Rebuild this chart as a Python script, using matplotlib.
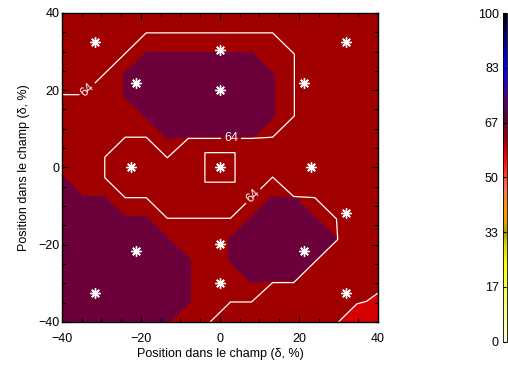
import numpy as np
import matplotlib
matplotlib.use('Agg')
import matplotlib.pyplot as plt
from matplotlib.colors import LinearSegmentedColormap, Normalize
from matplotlib.cm import ScalarMappable
from matplotlib.ticker import MultipleLocator

plt.rcParams['font.family'] = ['Liberation Sans', 'DejaVu Sans']

# grid of the interpolated map (16 x 16 nodes, -40..40 %)
grid_x = np.linspace(-40, 40, 16)
grid_y = np.linspace(-40, 40, 16)

# node values, top row (y = +40) first
z_rows = [
    [61.0, 61.0, 61.0, 61.0, 61.0, 61.0, 61.0, 61.0, 61.0, 61.0, 61.0, 61.0, 61.0, 61.0, 61.0, 61.0],
    [61.0, 61.0, 61.0, 61.0, 64.1, 64.1, 64.1, 64.1, 64.1, 64.1, 64.1, 61.0, 61.0, 61.0, 61.0, 61.0],
    [61.0, 61.0, 61.0, 64.1, 64.3, 64.3, 64.3, 64.3, 64.3, 64.3, 64.1, 64.1, 61.0, 61.0, 61.0, 61.0],
    [61.0, 61.0, 64.1, 64.3, 67.0, 67.0, 67.0, 67.0, 67.0, 67.0, 64.3, 64.1, 61.0, 61.0, 61.0, 61.0],
    [64.1, 64.1, 64.1, 64.3, 67.0, 67.0, 67.0, 67.0, 67.0, 67.0, 64.3, 64.1, 61.0, 61.0, 61.0, 61.0],
    [64.1, 64.1, 64.1, 64.1, 64.3, 67.0, 67.0, 67.0, 67.0, 67.0, 64.3, 64.1, 61.0, 61.0, 61.0, 61.0],
    [64.1, 64.1, 64.1, 64.1, 64.1, 64.3, 64.3, 64.3, 64.3, 64.3, 64.1, 61.0, 61.0, 61.0, 61.0, 61.0],
    [64.1, 64.1, 64.1, 61.0, 61.0, 64.1, 61.0, 61.0, 61.0, 61.0, 61.0, 61.0, 61.0, 61.0, 61.0, 61.0],
    [64.3, 64.1, 64.1, 61.0, 61.0, 61.0, 61.0, 61.0, 61.0, 61.0, 64.1, 61.0, 61.0, 61.0, 61.0, 61.0],
    [67.0, 64.3, 64.3, 64.1, 64.1, 61.0, 61.0, 61.0, 61.0, 64.1, 64.3, 64.3, 64.1, 61.0, 61.0, 61.0],
    [67.0, 67.0, 67.0, 64.3, 64.3, 64.1, 64.1, 64.1, 64.1, 64.3, 67.0, 67.0, 64.3, 64.1, 61.0, 61.0],
    [67.0, 67.0, 67.0, 67.0, 67.0, 64.3, 64.1, 64.1, 64.3, 67.0, 67.0, 67.0, 67.0, 64.3, 61.0, 61.0],
    [67.0, 67.0, 67.0, 67.0, 67.0, 67.0, 64.3, 64.1, 64.3, 67.0, 67.0, 67.0, 64.3, 61.0, 61.0, 61.0],
    [67.0, 67.0, 67.0, 67.0, 67.0, 67.0, 64.3, 64.1, 64.1, 64.3, 64.3, 64.3, 61.0, 61.0, 61.0, 58.9],
    [67.0, 67.0, 67.0, 67.0, 67.0, 67.0, 64.3, 64.1, 64.1, 64.1, 61.0, 61.0, 61.0, 61.0, 58.5, 57.4],
    [67.0, 67.0, 67.0, 67.0, 67.0, 64.3, 64.1, 64.1, 61.0, 61.0, 61.0, 61.0, 61.0, 58.5, 54.5, 54.0],
]

# finer look at the centre point
center_x = [-8.0, -3.75, 3.75, 8.0]
center_y = [-8.0, -3.75, 3.75, 8.0]
center_rows = [
    [61.0, 61.0, 61.0, 61.0],
    [61.0, 64.05, 64.05, 61.0],
    [61.0, 64.05, 64.05, 61.0],
    [61.0, 61.0, 61.0, 61.0],
]

# measurement positions (asterisks)
pts_x = [-31.6, 0.0, 31.9, -21.3, 0.0, 21.3, -22.5, 0.0, 23.0, 31.9, 0.0, 21.3, -21.3, 0.0, -31.6, 31.9]
pts_y = [32.5, 30.4, 32.5, 21.9, 20.1, 21.9, 0.0, 0.0, 0.0, -11.9, -19.8, -21.6, -21.6, -29.9, -32.5, -32.5]

fill_levels = [50, 58, 64.28, 75]
fill_colors = ['#d60000', '#a10000', '#6b003b']
label_level = 64
corner_level = 58
label_pos = [(-33.5, 20.0), (2.8, 8.0), (8.5, -7.5)]

cbar_ticks = np.linspace(0, 100, 7)
cmap_stops = [
    (0.00, '#ffffd8'), (0.12, '#ffff70'), (0.24, '#ffff00'), (0.30, '#d8d000'),
    (0.33, '#a8a000'), (0.37, '#f0a000'), (0.40, '#ff9900'), (0.47, '#ff7050'),
    (0.52, '#ff3010'), (0.56, '#ff0000'), (0.62, '#a00000'), (0.68, '#600030'),
    (0.75, '#500090'), (0.83, '#0000ff'), (0.92, '#000080'), (1.00, '#000000'),
]
cmap = LinearSegmentedColormap.from_list('map', cmap_stops)

Z = np.array(z_rows)[::-1]
X, Y = np.meshgrid(grid_x, grid_y)
Zc = np.array(center_rows)[::-1]
Xc, Yc = np.meshgrid(center_x, center_y)

fig = plt.figure(figsize=(5.08, 3.65), dpi=100)
ax = fig.add_axes([0.122, 0.118, 0.622, 0.8466])

ax.contourf(X, Y, Z, levels=fill_levels, colors=fill_colors)
ax.contour(X, Y, Z, levels=[corner_level], colors='white', linewidths=0.9)
ax.contour(Xc, Yc, Zc, levels=[label_level], colors='white', linewidths=0.9)
cs = ax.contour(X, Y, Z, levels=[label_level], colors='white', linewidths=0.9)
ax.clabel(cs, manual=label_pos, fmt='%d', fontsize=9,
          colors='white', inline=True, inline_spacing=3)

ax.plot(pts_x, pts_y, linestyle='none', marker=(8, 2, 0), markersize=7.5,
        markeredgewidth=1.0, color='white')

ax.set_xlim(-40, 40)
ax.set_ylim(-40, 40)
ax.xaxis.set_major_locator(MultipleLocator(20))
ax.yaxis.set_major_locator(MultipleLocator(20))
ax.xaxis.set_minor_locator(MultipleLocator(5))
ax.yaxis.set_minor_locator(MultipleLocator(5))
ax.tick_params(which='both', direction='in', top=True, right=True, labelsize=9, width=0.8)
ax.tick_params(which='major', length=4)
ax.tick_params(which='minor', length=3)
ax.tick_params(axis='x', pad=8)
ax.tick_params(axis='y', pad=2)
for s in ax.spines.values():
    s.set_linewidth(1.0)
ax.set_xlabel('Position dans le champ (δ, %)', fontsize=9, labelpad=2)
ax.set_ylabel('Position dans le champ (δ, %)', fontsize=9, labelpad=6)

cax = fig.add_axes([0.990, 0.064, 0.008, 0.8997])
sm = ScalarMappable(norm=Normalize(0, 100), cmap=cmap)
cb = fig.colorbar(sm, cax=cax, ticks=cbar_ticks)
cb.set_ticklabels(['%d' % round(t) for t in cbar_ticks])
cax.yaxis.set_ticks_position('left')
cax.yaxis.set_label_position('left')
cax.tick_params(direction='in', length=2, labelsize=9, pad=3)
cb.outline.set_linewidth(0.6)

fig.savefig('out.png', dpi=100)
